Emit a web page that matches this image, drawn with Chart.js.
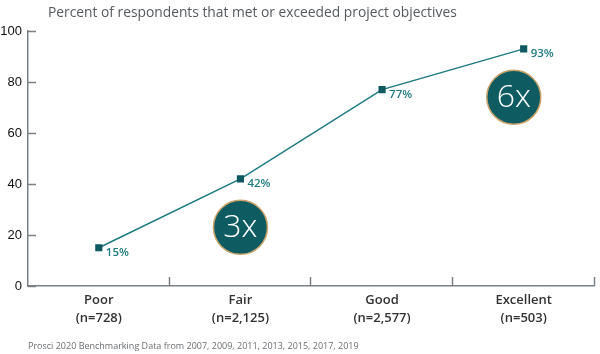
<!DOCTYPE html>
<html>
<head>
<meta charset="utf-8">
<script src="https://cdn.jsdelivr.net/npm/chart.js@4.4.0/dist/chart.umd.min.js"></script>
<style>
  html, body { margin: 0; padding: 0; background: #fff; }
  #wrap { width: 600px; height: 354px; position: relative; }
</style>
</head>
<body>
<div id="wrap"><canvas id="chart" width="600" height="354"></canvas></div>
<script>
// chart data
const categories = [['Poor', '(n=728)'], ['Fair', '(n=2,125)'], ['Good', '(n=2,577)'], ['Excellent', '(n=503)']];
const metObjectives = [15, 42, 77, 93];
const yTicks = [0, 20, 40, 60, 80, 100];
const callouts = [{ x: 1, y: 23, text: '3x' }, { x: 2.93, y: 74, text: '6x' }];

const chartTitle = 'Percent of respondents that met or exceeded project objectives';
const footnote = 'Prosci 2020 Benchmarking Data from 2007, 2009, 2011, 2013, 2015, 2017, 2019';

const teal = '#1d7a80';
const darkTeal = '#0e5a60';
const axisGray = '#7b8085';

// title, footnote, inward ticks, point labels, callouts
const decorPlugin = {
    id: 'decor',
    afterDraw(chart) {
        const ctx = chart.ctx;
        const area = chart.chartArea;
        const xs = chart.scales.x;
        const ys = chart.scales.y;
        ctx.save();

        // title
        ctx.fillStyle = '#555a5e';
        ctx.font = '13.8px "Open Sans"';
        ctx.textAlign = 'left';
        ctx.textBaseline = 'middle';
        ctx.fillText(chartTitle, 48, 13);

        // footnote
        ctx.fillStyle = '#6a6e72';
        ctx.font = '9px "Open Sans"';
        ctx.fillText(footnote, 28, 346);

        // inward tick marks
        ctx.strokeStyle = axisGray;
        ctx.lineWidth = 1.5;
        yTicks.forEach(v => {
            const py = Math.round(ys.getPixelForValue(v)) + 0.5;
            ctx.beginPath();
            ctx.moveTo(area.left, py);
            ctx.lineTo(area.left + 8, py);
            ctx.stroke();
        });
        const step = (area.right - area.left) / categories.length;
        for (let i = 1; i <= categories.length; i++) {
            const px = Math.round(area.left + i * step) - 0.5;
            ctx.beginPath();
            ctx.moveTo(px, area.bottom);
            ctx.lineTo(px, area.bottom - 9);
            ctx.stroke();
        }

        // point labels
        const meta = chart.getDatasetMeta(0);
        ctx.fillStyle = teal;
        ctx.font = '600 11.5px "Open Sans"';
        ctx.textAlign = 'left';
        meta.data.forEach((pt, i) => {
            ctx.fillText(metObjectives[i] + '%', pt.x + 7, pt.y + 5);
        });

        // callout circles
        callouts.forEach(c => {
            const cx = xs.getPixelForValue(c.x);
            const cy = ys.getPixelForValue(c.y);
            ctx.beginPath();
            ctx.arc(cx, cy, 27, 0, Math.PI * 2);
            ctx.fillStyle = '#0e5b61';
            ctx.fill();
            ctx.lineWidth = 1.5;
            ctx.strokeStyle = '#c9a46a';
            ctx.stroke();
            ctx.fillStyle = '#ffffff';
            ctx.font = '300 32px "Open Sans"';
            ctx.textAlign = 'center';
            ctx.fillText(c.text, cx, cy + 1);
        });
        ctx.restore();
    }
};

new Chart(document.getElementById('chart'), {
    type: 'line',
    data: {
        labels: categories,
        datasets: [{
            data: metObjectives,
            borderColor: teal,
            borderWidth: 1.5,
            pointStyle: 'rect',
            pointRadius: 4,
            pointBackgroundColor: darkTeal,
            pointBorderColor: darkTeal,
            tension: 0
        }]
    },
    options: {
        responsive: false,
        animation: false,
        layout: { padding: { top: 31, right: 2, left: 0, bottom: 0 } },
        plugins: {
            legend: { display: false },
            tooltip: { enabled: false }
        },
        scales: {
            x: {
                type: 'category',
                offset: true,
                grid: { display: false, drawTicks: false },
                border: { color: axisGray, width: 1.5 },
                ticks: {
                    color: '#333333',
                    font: { family: 'Open Sans', size: 13, weight: '600', lineHeight: 1.35 },
                    padding: 6,
                    maxRotation: 0,
                    autoSkip: false
                },
                afterFit: s => { s.height = 68; }
            },
            y: {
                min: 0,
                max: 100,
                grid: { display: false, drawTicks: false },
                border: { color: axisGray, width: 1.5 },
                afterBuildTicks: s => { s.ticks = yTicks.map(v => ({ value: v })); },
                ticks: {
                    color: '#111111',
                    font: { family: 'Liberation Sans', size: 13 },
                    padding: 6
                },
                afterFit: s => { s.width = 28; }
            }
        }
    },
    plugins: [decorPlugin]
});
</script>
</body>
</html>
